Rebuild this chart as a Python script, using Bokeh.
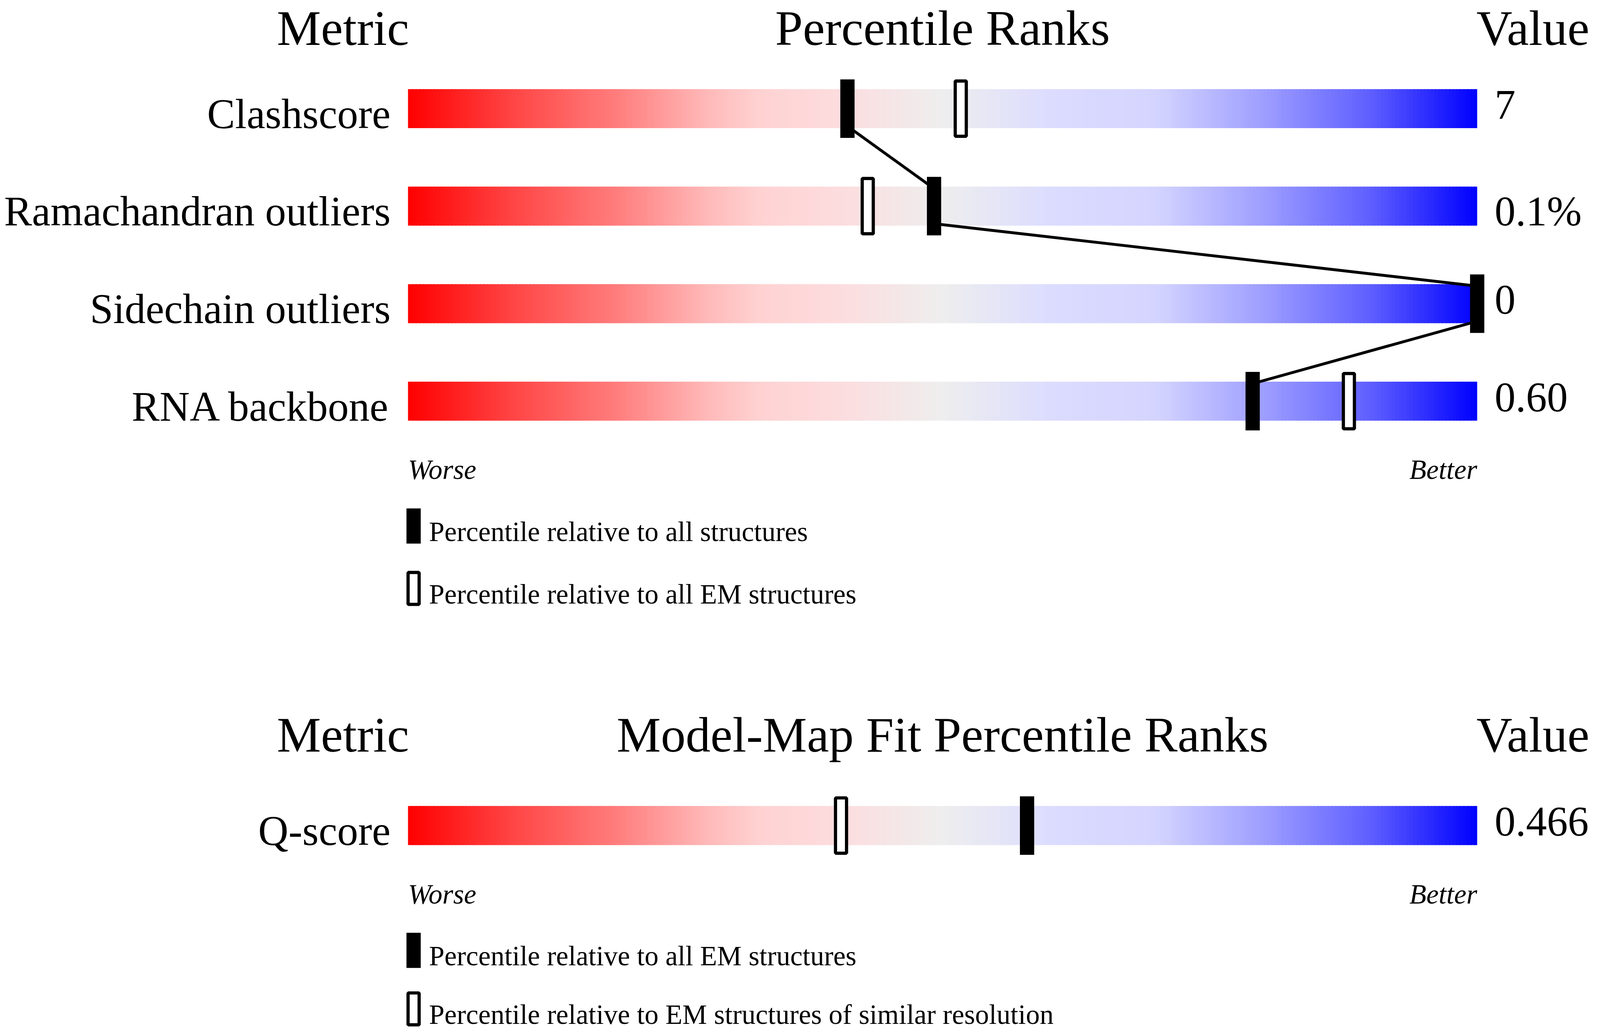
import numpy as np
from bokeh.plotting import figure
from bokeh.models import Range1d
from bokeh.core.properties import value
from bokeh.embed import file_html
from bokeh.resources import INLINE

# ---------------- data ----------------
metrics = ["Clashscore", "Ramachandran outliers", "Sidechain outliers", "RNA backbone"]
metric_values = ["7", "0.1%", "0", "0.60"]
pct_all = [41.1, 49.2, 100.0, 79.0]          # filled markers
pct_em = [51.7, 43.0, None, 88.0]            # hollow markers

fit_metrics = ["Q-score"]
fit_values = ["0.466"]
fit_pct_em = [57.9]                           # filled markers
fit_pct_res = [40.5]                          # hollow markers

headers_top = ["Metric", "Percentile Ranks", "Value"]
headers_fit = ["Metric", "Model-Map Fit Percentile Ranks", "Value"]
legend_top = ["Percentile relative to all structures",
              "Percentile relative to all EM structures"]
legend_fit = ["Percentile relative to all EM structures",
              "Percentile relative to EM structures of similar resolution"]
scale_ends = ["Worse", "Better"]

# gradient colour stops (position 0..1, rgb)
grad_pos = [0.00, 0.10, 0.20, 0.28, 0.33, 0.40, 0.50, 0.60, 0.70, 0.75, 0.80, 0.90, 1.00]
grad_r = [255, 255, 255, 255, 255, 253, 238, 220, 212, 185, 158, 95, 0]
grad_g = [0, 70, 128, 185, 210, 220, 238, 220, 212, 185, 158, 95, 0]
grad_b = [0, 70, 128, 185, 210, 222, 238, 255, 255, 255, 255, 255, 255]

# ---------------- layout ----------------
# The browser viewport is 4096 px wide; the reference layout (4485 px wide)
# is mapped horizontally by SX.
VIEW_W, VIEW_H, M = 4096, 2652, 8
SX = VIEW_W / 4485.0
W, H = VIEW_W - 2 * M - 4, VIEW_H - 2 * M - 4
YS = H / float(VIEW_H - 2 * M)          # screen px per reference y px
BAR_X0, PX_PER_PCT = 1153.0, 30.0      # reference pixels
FONT = value("Liberation Serif")
ASCENT = 0.891                          # Liberation Serif ascent (em)
FS_HEAD, FS_ROW, FS_SMALL = round(139 * SX), 107, round(78 * SX)


def px(xref):
    """reference x pixel -> data (percentile) units"""
    return (xref - BAR_X0) / PX_PER_PCT


def top_of(baseline, fs):
    """y of the text top (ascent line) for a wanted baseline"""
    return baseline - ASCENT * fs / YS


p = figure(width=W, height=H, output_backend="svg", toolbar_location=None,
           x_range=Range1d(px(M / SX), px((VIEW_W - M) / SX)),
           y_range=Range1d(VIEW_H - M, M),
           min_border=0, outline_line_color=None, background_fill_color="white",
           border_fill_color="white")
p.axis.visible = False
p.grid.visible = False

N = 300
edges = np.linspace(0, 100, N + 1)
mids = (edges[:-1] + edges[1:]) / 200.0
cols = ["#%02x%02x%02x" % (int(round(np.interp(m, grad_pos, grad_r))),
                          int(round(np.interp(m, grad_pos, grad_g))),
                          int(round(np.interp(m, grad_pos, grad_b)))) for m in mids]
step = edges[1] - edges[0]
rights = np.minimum(edges[1:] + step * 0.6, 100)

MW = 40 / PX_PER_PCT           # marker width in data units
STROKE = 9 * SX                # screen px
LINE_W = 8 * SX


def txt(xs, baselines, texts, fs, align, style="normal"):
    p.text(x=xs, y=[top_of(b, fs) for b in baselines], text=texts, text_font=FONT,
           text_font_size="%dpx" % fs, text_font_style=style, text_align=align,
           text_baseline="top", text_color="black")


def draw_block(top, headers, labels, vals, filled, hollow, legends, connect, leg_gap):
    # keep the header's text box inside the figure
    hy = max(top + 97, M + ASCENT * FS_HEAD / YS + 2)
    txt([px(1156)], [hy], [headers[0]], FS_HEAD, "right")
    txt([50], [hy], [headers[1]], FS_HEAD, "center")
    txt([px(4151)], [hy], [headers[2]], FS_HEAD, "left")

    n = len(labels)
    bar_tops = [top + 236 + 250 * i for i in range(n)]
    bar_bots = [t + 100 for t in bar_tops]
    mids_y = [t + 50 for t in bar_tops]

    for t in bar_tops:
        p.quad(left=edges[:-1], right=rights, top=[t] * N, bottom=[t + 100] * N,
               fill_color=cols, line_color=None)

    txt([px(1104)] * n, bar_bots, labels, FS_ROW, "right")
    txt([px(4202)] * n, bar_bots, vals, FS_ROW, "left")

    if connect:
        idx = [i for i in range(n) if filled[i] is not None]
        x0, y0, x1, y1 = [], [], [], []
        for a, b in zip(idx[:-1], idx[1:]):
            x0.append(filled[a]); y0.append(bar_bots[a] - 5)
            x1.append(filled[b]); y1.append(bar_tops[b] + 5)
        p.segment(x0=x0, y0=y0, x1=x1, y1=y1, line_color="black", line_width=LINE_W)

    fx = [filled[i] for i in range(n) if filled[i] is not None]
    fy = [mids_y[i] for i in range(n) if filled[i] is not None]
    p.rect(x=fx, y=fy, width=MW, height=150, fill_color="black", line_color=None)

    hx = [hollow[i] for i in range(n) if hollow[i] is not None]
    hy2 = [mids_y[i] for i in range(n) if hollow[i] is not None]
    p.rect(x=hx, y=hy2, width=MW - STROKE / (PX_PER_PCT * SX), height=150 - STROKE,
           fill_color="white", line_color="black", line_width=STROKE)

    last = bar_bots[-1]
    txt([px(1153)], [last + 150], [scale_ends[0]], FS_SMALL, "left", "italic")
    txt([100], [last + 150], [scale_ends[1]], FS_SMALL, "right", "italic")

    # legend
    sq_tops = [last + 225 + leg_gap * k for k in range(len(legends))]
    lx = px(1168.7)
    p.rect(x=[lx], y=[sq_tops[0] + 45], width=MW, height=90, fill_color="black", line_color=None)
    p.rect(x=[lx], y=[sq_tops[1] + 45], width=MW - STROKE / (PX_PER_PCT * SX),
           height=90 - STROKE, fill_color="white", line_color="black", line_width=STROKE)
    txt([px(1212)] * len(legends), [t + 84 for t in sq_tops], legends, FS_SMALL, "left")


draw_block(0, headers_top, metrics, metric_values, pct_all, pct_em, legend_top, True, 160)
draw_block(1838, headers_fit, fit_metrics, fit_values, fit_pct_em, fit_pct_res, legend_fit,
           False, 150)

open("out.html", "w").write(file_html(p, INLINE))
